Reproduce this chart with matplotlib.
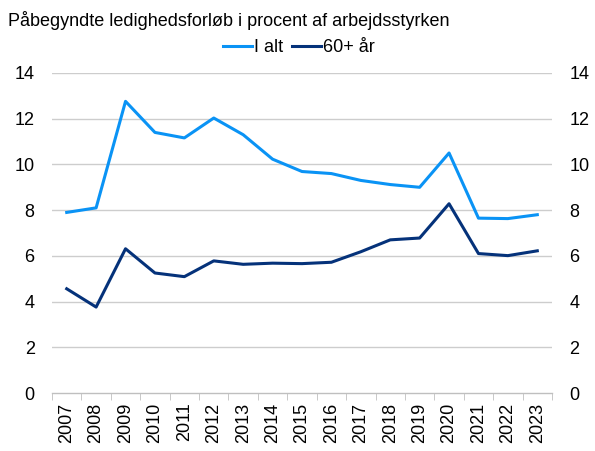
import matplotlib
matplotlib.use("Agg")
import matplotlib.pyplot as plt
import numpy as np

plt.rcParams['font.family'] = ['Liberation Sans', 'DejaVu Sans']

# Data
years = [str(y) for y in range(2007, 2024)]
i_alt = [7.9, 8.1, 12.76, 11.4, 11.16, 12.03, 11.3, 10.23, 9.69,
         9.6, 9.3, 9.12, 9.0, 10.5, 7.65, 7.63, 7.8]
aar60 = [4.56, 3.76, 6.31, 5.25, 5.09, 5.78, 5.63, 5.68, 5.66,
         5.72, 6.18, 6.7, 6.78, 8.28, 6.1, 6.01, 6.22]
yticks = [0, 2, 4, 6, 8, 10, 12, 14]

LIGHT = '#0A93F5'
DARK = '#05327A'
GRID = '#CDCDCD'
FS = 13

fig = plt.figure(figsize=(5.95, 4.51), dpi=100)
ax = fig.add_axes([52 / 595, 1 - 393 / 451, 500 / 595, 320 / 451])

x = np.arange(len(years))
ax.plot(x, i_alt, color=LIGHT, lw=2.2, label='I alt')
ax.plot(x, aar60, color=DARK, lw=2.2, label='60+ år')

ax.set_xlim(-0.5, len(years) - 0.5)
ax.set_ylim(0, 14)
ax.set_yticks(yticks)
for y in yticks[1:]:
    ax.axhline(y, color=GRID, lw=1, zorder=0)

for s in ['top', 'left', 'right']:
    ax.spines[s].set_visible(False)
ax.spines['bottom'].set_color('#BFBFBF')
ax.spines['bottom'].set_linewidth(1)

ax.set_xticks(x)
ax.set_xticklabels(years, rotation=90, fontsize=FS)
ax.tick_params(axis='x', length=0, pad=7)
ax.set_xticks(np.arange(-0.5, len(years)), minor=True)
ax.tick_params(axis='x', which='minor', length=5, color='#BFBFBF')

ax.tick_params(axis='y', length=0, labelsize=FS, pad=12.5,
               labelleft=True, labelright=True)

fig.text(8 / 595, 1 - 26 / 451, 'Påbegyndte ledighedsforløb i procent af arbejdsstyrken',
         fontsize=FS, va='baseline', ha='left')

ax.legend(loc='center', bbox_to_anchor=(299 / 595, 1 - 48 / 451),
          bbox_transform=fig.transFigure, ncol=2, frameon=False,
          fontsize=FS, handlelength=1.6, handletextpad=0.15, columnspacing=0.45,
          borderpad=0, borderaxespad=0)

fig.savefig('out.png', dpi=100)
